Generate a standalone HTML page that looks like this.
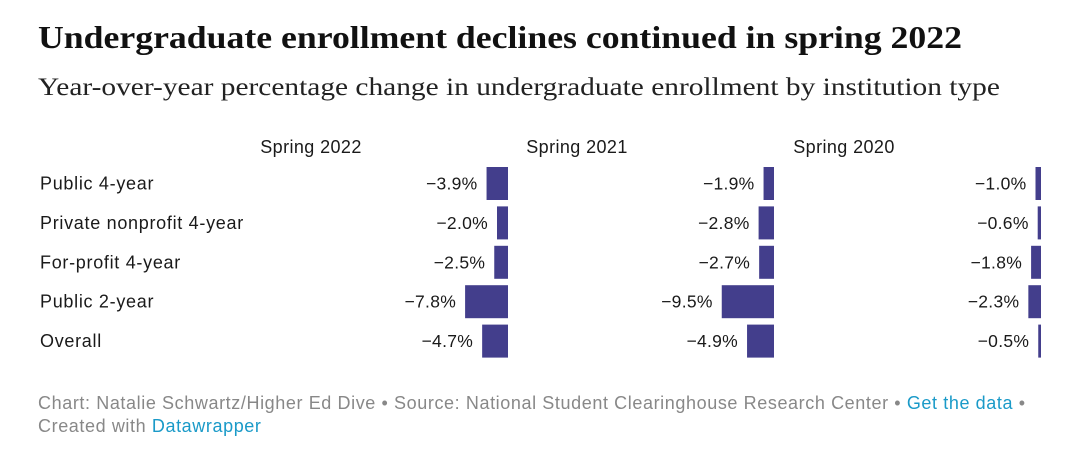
<!DOCTYPE html>
<html><head><meta charset="utf-8"><style>
body{margin:0;width:1080px;height:460px;background:#fff;font-family:"Liberation Sans",sans-serif;overflow:hidden;position:relative;color:#1a1a1a}
.t{position:absolute;white-space:nowrap;transform-origin:0 0}
</style></head><body>
<div class="t" style="left:38px;top:19px;font-family:'Liberation Serif',serif;font-weight:bold;font-size:32px;color:#111;transform:scaleX(1.116)">Undergraduate enrollment declines continued in spring 2022</div>
<div class="t" style="left:38px;top:74px;font-family:'Liberation Serif',serif;font-size:25px;color:#222;transform:scaleX(1.176)">Year-over-year percentage change in undergraduate enrollment by institution type</div>
<svg id="chart" width="1080" height="380" style="position:absolute;left:0;top:0"></svg>
<div class="t" style="left:38px;top:392px;font-size:18px;letter-spacing:0.6px;color:#888;line-height:23px">Chart: Natalie Schwartz/Higher Ed Dive • Source: National Student Clearinghouse Research Center • <span style="color:#1a9ac8">Get the data</span> •<br>Created with <span style="color:#1a9ac8">Datawrapper</span></div>
<script>
const categories=["Public 4-year","Private nonprofit 4-year","For-profit 4-year","Public 2-year","Overall"];
const seriesNames=["Spring 2022","Spring 2021","Spring 2020"];
const s2022=[-3.9,-2.0,-2.5,-7.8,-4.7];
const s2021=[-1.9,-2.8,-2.7,-9.5,-4.9];
const s2020=[-1.0,-0.6,-1.8,-2.3,-0.5];
const series=[s2022,s2021,s2020];
const svg=document.getElementById('chart');
const NS='http://www.w3.org/2000/svg';
const zeroX=[508,774,1041];
const titleX=[311,577,844];
const scale=5.5;
const x=(c,v)=>zeroX[c]+v*scale;
const rowY=i=>167+i*39.4;
const barH=33;
function mk(tag,attrs,txt){const e=document.createElementNS(NS,tag);for(const k in attrs)e.setAttribute(k,attrs[k]);if(txt!=null)e.textContent=txt;svg.appendChild(e);return e;}
categories.forEach((c,i)=>{
  const t=mk('text',{x:40,y:rowY(i)+barH/2+6,'font-size':18,'letter-spacing':0.7,fill:'#1a1a1a'},c);
  
  
});
series.forEach((vals,c)=>{
  const h=mk('text',{x:titleX[c],y:153,'font-size':18,'letter-spacing':0.4,fill:'#1a1a1a','text-anchor':'middle'},seriesNames[c]);
  
  
  vals.forEach((v,i)=>{
    const x0=x(c,v);
    const r=mk('rect',{x:x0,y:rowY(i),width:zeroX[c]-x0,height:barH,fill:'#433e8c'});
    
    
    const l=mk('text',{x:x0-9,y:rowY(i)+barH/2+6,'font-size':17.5,'letter-spacing':0.3,fill:'#1a1a1a','text-anchor':'end'},'\u2212'+Math.abs(v).toFixed(1)+'%');
    
    
  });
});
</script>
</body></html>
